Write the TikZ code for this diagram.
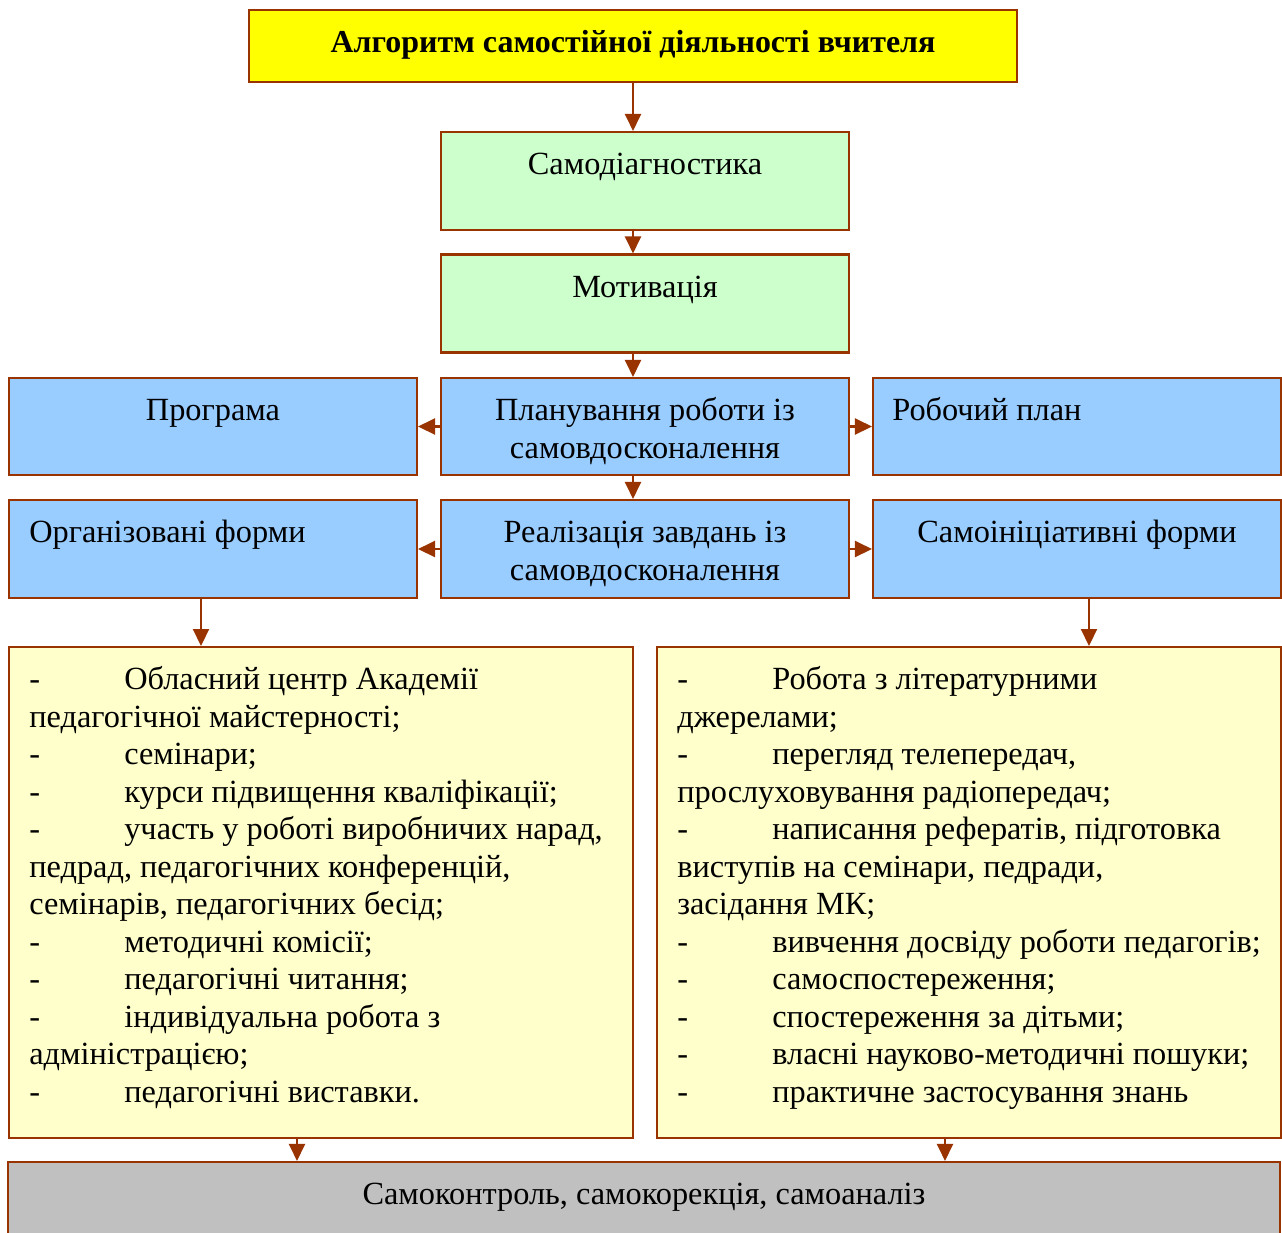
\documentclass[tikz,border=0pt]{standalone}
\usepackage{fontspec}
\setmainfont{Liberation Serif}
\usetikzlibrary{arrows.meta}

\definecolor{myyellow}{HTML}{FFFF00}
\definecolor{mygreen}{HTML}{CCFFCC}
\definecolor{myblue}{HTML}{99CCFF}
\definecolor{mycream}{HTML}{FFFFCC}
\definecolor{mygrey}{HTML}{C0C0C0}
\definecolor{mybrown}{HTML}{993300}

\newcommand{\topgap}{\rule{0pt}{0.87cm}}
\newcommand{\itemdash}{\makebox[1.9cm][l]{-}}

\begin{document}
\begin{tikzpicture}[x = 0.02cm, y = -0.02cm]
		\tikzstyle{every node} = [font = \fontsize{18.4pt}{21.35pt}\selectfont]
		\tikzstyle{box} = [draw = mybrown, line width = 1.2pt, inner sep = 0]
		\tikzstyle{txt} = [inner sep = 0, anchor = north, align = center]
		\tikzstyle{ltxt} = [inner sep = 0, anchor = north west, align = left]
		\tikzstyle{arr} = [mybrown, line width = 1.2pt, -{Triangle[length = 0.34cm, width = 0.32cm]}]
		
		\useasboundingbox (0,0) rectangle (1282,1232);
		
		% boxes
		\node[box, fill = myyellow, minimum width = 15.36cm, minimum height = 1.44cm] (title) at (633,46) {};
		\node[box, fill = mygreen, minimum width = 8.16cm, minimum height = 1.96cm] (samod) at (645,181) {};
		\node[box, fill = mygreen, minimum width = 8.16cm, minimum height = 1.96cm] (motiv) at (645,303.5) {};
		
		\node[box, fill = myblue, minimum width = 8.16cm, minimum height = 1.94cm] (prog) at (213,426.5) {};
		\node[box, fill = myblue, minimum width = 8.16cm, minimum height = 1.94cm] (plan) at (645,426.5) {};
		\node[box, fill = myblue, minimum width = 8.16cm, minimum height = 1.94cm] (robo) at (1077,426.5) {};
		
		\node[box, fill = myblue, minimum width = 8.16cm, minimum height = 1.96cm] (org) at (213,549) {};
		\node[box, fill = myblue, minimum width = 8.16cm, minimum height = 1.96cm] (real) at (645,549) {};
		\node[box, fill = myblue, minimum width = 8.16cm, minimum height = 1.96cm] (samin) at (1077,549) {};
		
		\node[box, fill = mycream, minimum width = 12.48cm, minimum height = 9.82cm] (lstL) at (321,892.5) {};
		\node[box, fill = mycream, minimum width = 12.48cm, minimum height = 9.82cm] (lstR) at (969,892.5) {};
		
		\node[box, fill = mygrey, minimum width = 25.44cm, minimum height = 1.8cm] (bottom) at (644,1207) {};
		
		% texts
		\node[txt, font = \fontsize{18.2pt}{21.35pt}\selectfont\bfseries] (title-t) at (title.north) {\topgap Алгоритм самостійної діяльності вчителя};
		\node[txt] (samod-t) at (samod.north) {\topgap Самодіагностика};
		\node[txt] (motiv-t) at (motiv.north) {\topgap Мотивація};
		\node[txt] (prog-t) at (prog.north) {\topgap Програма};
		\node[txt] (plan-t) at (plan.north) {\topgap Планування роботи із\\ самовдосконалення};
		\node[ltxt] (robo-t) at ([xshift = 0.4cm]robo.north west) {\topgap Робочий план};
		\node[ltxt] (org-t) at ([xshift = 0.42cm]org.north west) {\topgap Організовані форми};
		\node[txt] (real-t) at (real.north) {\topgap Реалізація завдань із\\ самовдосконалення};
		\node[txt] (samin-t) at (samin.north) {\topgap Самоініціативні форми};
		\node[txt] (bottom-t) at (bottom.north) {\topgap Самоконтроль, самокорекція, самоаналіз};
		
		\node[ltxt] (lstL-t) at ([xshift = 0.42cm]lstL.north west) {\topgap\itemdash Обласний центр Академії\\
			педагогічної майстерності;\\
			\itemdash семінари;\\
			\itemdash курси підвищення кваліфікації;\\
			\itemdash участь у роботі виробничих нарад,\\
			педрад, педагогічних конференцій,\\
			семінарів, педагогічних бесід;\\
			\itemdash методичні комісії;\\
			\itemdash педагогічні читання;\\
			\itemdash індивідуальна робота з\\
			адміністрацією;\\
			\itemdash педагогічні виставки.};
		\node[ltxt] (lstR-t) at ([xshift = 0.42cm]lstR.north west) {\topgap\itemdash Робота з літературними\\
			джерелами;\\
			\itemdash перегляд телепередач,\\
			прослуховування радіопередач;\\
			\itemdash написання рефератів, підготовка\\
			виступів на семінари, педради,\\
			засідання МК;\\
			\itemdash вивчення досвіду роботи педагогів;\\
			\itemdash самоспостереження;\\
			\itemdash спостереження за дітьми;\\
			\itemdash власні науково-методичні пошуки;\\
			\itemdash практичне застосування знань};
		
		% arrows
		\draw[arr] (title.south) -- (title.south |- samod.north);
		\foreach \a/\b in {samod/motiv, motiv/plan, plan/real}
		{
			\draw[arr] (\a.south -| title.south) -- (\b.north -| title.south);
		}
		\foreach \a/\b in {plan/prog, plan/robo, real/org, real/samin}
		{
			\draw[arr] (\a) -- (\b);
		}
		\draw[arr] ([xshift = -0.24cm]org.south) -- ([xshift = -0.24cm]org.south |- lstL.north);
		\draw[arr] ([xshift = 0.24cm]samin.south) -- ([xshift = 0.24cm]samin.south |- lstR.north);
		\draw[arr] ([xshift = -0.48cm]lstL.south) -- ([xshift = -0.48cm]lstL.south |- bottom.north);
		\draw[arr] ([xshift = -0.48cm]lstR.south) -- ([xshift = -0.48cm]lstR.south |- bottom.north);
	\end{tikzpicture}
\end{document}
